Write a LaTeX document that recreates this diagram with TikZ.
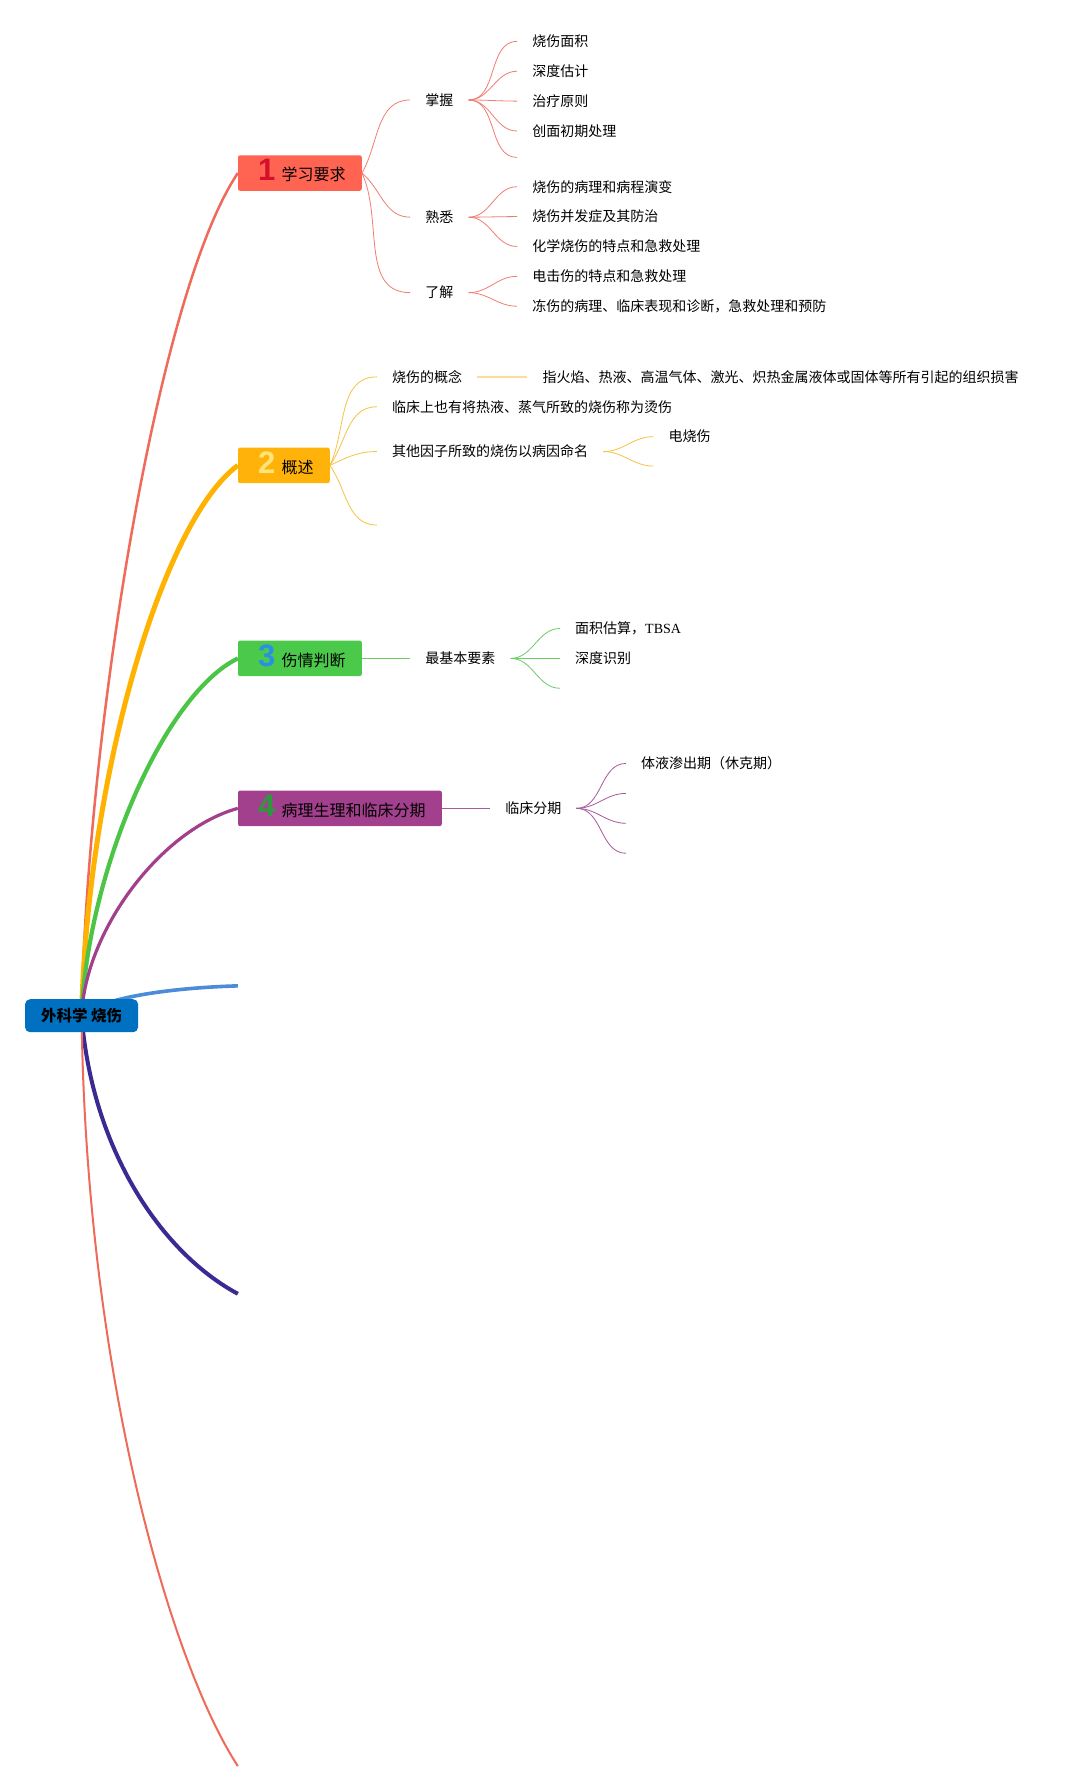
\documentclass[tikz,border=0pt]{standalone}
\usepackage{fontspec}
\setmainfont{Noto Sans CJK SC}
\newfontfamily\numfont{Liberation Sans}
\newfontfamily\tbsafont{Liberation Serif}
\usepackage{tikz}
\usetikzlibrary{positioning}

\definecolor{rootblue}{HTML}{0070C0}
\definecolor{redA}{HTML}{EF6A5A}
\definecolor{redbox}{HTML}{FF6352}
\definecolor{rednum}{HTML}{D4102C}
\definecolor{redthin}{HTML}{F07D72}
\definecolor{orangeA}{HTML}{FFB300}
\definecolor{orangebox}{HTML}{FFB30A}
\definecolor{orangenum}{HTML}{FFE47A}
\definecolor{orangethin}{HTML}{F6C343}
\definecolor{orangelight}{HTML}{F8DE96}
\definecolor{greenA}{HTML}{4CC547}
\definecolor{greenbox}{HTML}{4BC94B}
\definecolor{greennum}{HTML}{2A8FE6}
\definecolor{greenthin}{HTML}{6ACD66}
\definecolor{purpleA}{HTML}{A3408E}
\definecolor{purplenum}{HTML}{2C9A3C}
\definecolor{purplethin}{HTML}{A65A9C}
\definecolor{blueA}{HTML}{4A8BDA}
\definecolor{indigoA}{HTML}{3B2A91}

\tikzset{
  rootbox/.style={fill=rootblue, rounded corners=5pt, minimum width=113pt, minimum height=33pt, inner sep=0pt, font=\fontsize{15.5pt}{17pt}\selectfont\bfseries},
  topicbox/.style={anchor=west, rounded corners=2pt, minimum height=35.5pt, inner xsep=0pt, inner ysep=0pt, font=\fontsize{16pt}{18pt}\selectfont},
  leaf/.style={anchor=west, inner xsep=15pt, inner ysep=2pt, font=\fontsize{14pt}{16pt}\selectfont},
  twig/.style={line width=0.8pt},
  descline/.style={line width=2pt, draw=orangelight}
}

\newcommand{\topiclabel}[3]{\rule[-6pt]{0pt}{0pt}\hspace*{19.7pt}\makebox[18pt]{\numfont\bfseries\fontsize{31pt}{31pt}\selectfont\color{#1}#2}\hspace*{6pt}#3\hspace*{16pt}}

\begin{document}
\begin{tikzpicture}[x=1.149pt, y=-1.149pt]
        \useasboundingbox (0,0) rectangle (939.1,1559.6);

        \node[rootbox] at (71, 884) (burn) {外科学 烧伤};
        \node[topicbox, fill=redbox] at (207, 150.6) (t1) {\topiclabel{rednum}{1}{学习要求}};
        \node[topicbox, fill=orangebox] at (207, 405) (t2) {\topiclabel{orangenum}{2}{概述}};
        \node[topicbox, fill=greenbox] at (207, 573) (t3) {\topiclabel{greennum}{3}{伤情判断}};
        \node[topicbox, fill=purpleA] at (207, 703.5) (t4) {\topiclabel{purplenum}{4}{病理生理和临床分期}};
        \coordinate (t5) at (207, 858);
        \coordinate (t6) at (207, 1126);
        \coordinate (t7) at (207, 1537);

        % 学习要求
        \node[leaf] at (357, 87) (zw) {掌握};
        \node[leaf] at (357, 189) (sx) {熟悉};
        \node[leaf] at (357, 254.7) (lj) {了解};
        \node[leaf] at (450, 36) (zw1) {烧伤面积};
        \node[leaf] at (450, 62) (zw2) {深度估计};
        \node[leaf] at (450, 88) (zw3) {治疗原则};
        \node[leaf] at (450, 114) (zw4) {创面初期处理};
        \node[leaf] at (450, 137) (zw5) {};
        \node[leaf] at (450, 162.5) (sx1) {烧伤的病理和病程演变};
        \node[leaf] at (450, 188.5) (sx2) {烧伤并发症及其防治};
        \node[leaf] at (450, 214.5) (sx3) {化学烧伤的特点和急救处理};
        \node[leaf] at (450, 240.5) (lj1) {电击伤的特点和急救处理};
        \node[leaf] at (450, 266.5) (lj2) {冻伤的病理、临床表现和诊断，急救处理和预防};

        % 概述
        \node[leaf] at (328, 328) (gn) {烧伤的概念};
        \node[leaf] at (459, 328) (gd) {指火焰、热液、高温气体、激光、炽热金属液体或固体等所有引起的组织损害};
        \node[leaf] at (328, 354) (lc) {临床上也有将热液、蒸气所致的烧伤称为烫伤};
        \node[leaf] at (328, 393) (qt) {其他因子所致的烧伤以病因命名};
        \node[leaf] at (328, 457) (ge) {};
        \node[leaf] at (568.6, 380) (qt1) {电烧伤};
        \node[leaf] at (568.6, 405.6) (qt2) {};

        % 伤情判断
        \node[leaf] at (357, 573) (jb) {最基本要素};
        \node[leaf] at (487.4, 547) (jb1) {面积估算，{\tbsafont TBSA}};
        \node[leaf] at (487.4, 573) (jb2) {深度识别};
        \node[leaf] at (487.4, 599) (jb3) {};

        % 病理生理和临床分期
        \node[leaf] at (426.5, 703.5) (fq) {临床分期};
        \node[leaf] at (544.8, 664.4) (fq1) {体液渗出期（休克期）};
        \node[leaf] at (544.8, 690.5) (fq2) {};
        \node[leaf] at (544.8, 716.5) (fq3) {};
        \node[leaf] at (544.8, 742.6) (fq4) {};

        \draw [twig, redthin] (t1.east) to[out=60, in=180] (zw.west);
        \draw [twig, redthin] (t1.east) to[out=-40, in=180] (sx.west);
        \draw [twig, redthin] (t1.east) to[out=-65, in=180] (lj.west);
        \draw [twig, redthin] (zw.east) to[out=0, in=180] (zw1.west);
        \draw [twig, redthin] (zw.east) to[out=0, in=180] (zw2.west);
        \draw [twig, redthin] (zw.east) to[out=0, in=180] (zw3.west);
        \draw [twig, redthin] (zw.east) to[out=0, in=180] (zw4.west);
        \draw [twig, redthin] (zw.east) to[out=0, in=180] (zw5.west);
        \draw [twig, redthin] (sx.east) to[out=0, in=180] (sx1.west);
        \draw [twig, redthin] (sx.east) to[out=0, in=180] (sx2.west);
        \draw [twig, redthin] (sx.east) to[out=0, in=180] (sx3.west);
        \draw [twig, redthin] (lj.east) to[out=0, in=180] (lj1.west);
        \draw [twig, redthin] (lj.east) to[out=0, in=180] (lj2.west);

        \draw [twig, orangethin] (t2.east) to[out=65, in=180] (gn.west);
        \draw [twig, orangethin] (t2.east) to[out=55, in=180] (lc.west);
        \draw [twig, orangethin] (t2.east) to[out=25, in=180] (qt.west);
        \draw [twig, orangethin] (t2.east) to[out=-55, in=180] (ge.west);
        \draw [descline] (gn.east) -- (gd.west);
        \draw [twig, orangethin] (qt.east) to[out=0, in=180] (qt1.west);
        \draw [twig, orangethin] (qt.east) to[out=0, in=180] (qt2.west);

        \draw [twig, greenthin] (t3.east) -- (jb.west);
        \draw [twig, greenthin] (jb.east) to[out=0, in=180] (jb1.west);
        \draw [twig, greenthin] (jb.east) to[out=0, in=180] (jb2.west);
        \draw [twig, greenthin] (jb.east) to[out=0, in=180] (jb3.west);

        \draw [twig, purplethin] (t4.east) -- (fq.west);
        \draw [twig, purplethin] (fq.east) to[out=0, in=180] (fq1.west);
        \draw [twig, purplethin] (fq.east) to[out=0, in=180] (fq2.west);
        \draw [twig, purplethin] (fq.east) to[out=0, in=180] (fq3.west);
        \draw [twig, purplethin] (fq.east) to[out=0, in=180] (fq4.west);

        \pgfdeclarelayer{bg}
        \pgfsetlayers{bg,main}
        \begin{pgfonlayer}{bg}
             \fill [white] (0,0) rectangle (939.1,1559.6);
             \draw [redA, line width=2.5pt] (burn.center) .. controls (75,650) and (135,258) .. (t1.west);
             \draw [orangeA, line width=5pt] (burn.center) .. controls (76,680) and (140,455) .. (t2.west);
             \draw [greenA, line width=4.2pt] (burn.center) .. controls (76,760) and (142,605) .. (t3.west);
             \draw [purpleA, line width=3.2pt] (burn.center) .. controls (74,810) and (140,722) .. (t4.west);
             \draw [blueA, line width=3.6pt] (burn.center) .. controls (85,870) and (140,860) .. (t5);
             \draw [indigoA, line width=4pt] (burn.center) .. controls (80,1000) and (140,1090) .. (t6);
             \draw [redA, line width=2pt] (burn.center) .. controls (75,1200) and (150,1450) .. (t7);
        \end{pgfonlayer}
    \end{tikzpicture}
\end{document}
